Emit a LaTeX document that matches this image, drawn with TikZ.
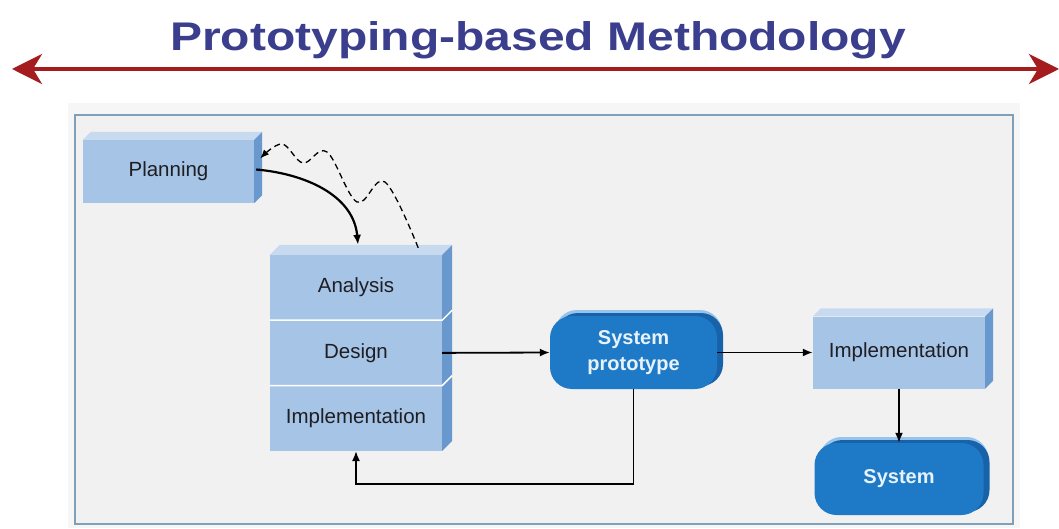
\documentclass[tikz,border=0pt]{standalone}
\usepackage{fontspec}
\setmainfont{Liberation Sans}
\usetikzlibrary{positioning,calc,arrows.meta,shadows}

\definecolor{titleblue}{RGB}{58,62,140}
\definecolor{arrowred}{RGB}{165,28,30}
\definecolor{panelfill}{RGB}{241,241,241}
\definecolor{panelline}{RGB}{128,160,185}
\definecolor{boxfront}{RGB}{166,196,230}
\definecolor{boxtop}{RGB}{200,218,240}
\definecolor{boxside}{RGB}{104,152,206}
\definecolor{blobfront}{RGB}{30,122,198}
\definecolor{blobtop}{RGB}{150,196,236}
\definecolor{blobdark}{RGB}{24,98,170}
\definecolor{blobtext}{RGB}{232,242,252}
\definecolor{textdark}{RGB}{30,30,35}

\tikzset{
  phase/.style={fill=boxfront, minimum width=172pt, minimum height=65pt,
    inner sep=0pt, text=textdark, font=\fontsize{20.5}{24}\selectfont},
  blob/.style={fill=blobfront, rounded corners=22pt, inner sep=0pt,
    general shadow={fill=blobtop, shadow xshift=5pt, shadow yshift=6pt},
    general shadow={fill=blobdark, shadow xshift=6pt, shadow yshift=3pt},
    text=blobtext, align=center, font=\bfseries\fontsize{20}{26}\selectfont},
  flow/.style={-{Latex[length=10pt,width=8pt]}, line width=1.8pt},
  wiggle/.style={line width=1.3pt, dash pattern=on 6pt off 4pt,
    -{Latex[length=9pt,width=7pt]}},
}

% top and right faces of a box, from top node #1 to bottom node #2
\newcommand{\prism}[3]{%
  \fill[boxtop] (#1.north west) -- ++(#3,#3) -- ($(#1.north east)+(#3,#3)$)
    -- (#1.north east) -- cycle;
  \fill[boxside] (#1.north east) -- ++(#3,#3) -- ($(#2.south east)+(#3,#3)$)
    -- (#2.south east) -- cycle;}

\begin{document}
\begin{tikzpicture}[x=1pt,y=1pt]
    \useasboundingbox (0,0) rectangle (1059,528);
    % title and span arrow
    \node[anchor=base, text=titleblue, xscale=1.2, transform shape,
      font=\bfseries\fontsize{40}{44}\selectfont] (title) at (538,477) {Prototyping-based Methodology};
    \coordinate (spanl) at (12,459);
    \coordinate (spanr) at (1059,459);
    \draw[arrowred, line width=4pt, {Stealth[length=30pt,width=30pt,inset=9pt]}-{Stealth[length=30pt,width=30pt,inset=9pt]}] (spanl) -- (spanr);
    % panel
    \fill[gray!7] (68,0) rectangle (1020,425);
    \draw[draw=panelline, fill=panelfill, line width=1.2pt] (75,4) rectangle (1013,413);

    % planning
    \node[phase, minimum width=171pt, minimum height=63pt] (plan) at (168.5,356.5) {Planning};
    \prism{plan}{plan}{8}

    % analysis / design / implementation stack
    \node[phase] (ana) at (356,240.5) {Analysis};
    \node[phase, below=0pt of ana] (des) {Design};
    \node[phase, below=0pt of des] (imp) {Implementation};
    \prism{ana}{imp}{10}
    \draw[white, line width=1.5pt] (ana.south west) -- (ana.south east) -- ++(10,10);
    \draw[white, line width=1.5pt] (des.south west) -- (des.south east) -- ++(10,10);

    % prototype, implementation, system
    \node[blob, minimum width=167pt, minimum height=73pt] (proto) at (633.5,175.5) {System\\prototype};
    \node[phase, minimum height=72pt] (impl) at (899,175.5) {Implementation};
    \prism{impl}{impl}{8}
    \node[blob, minimum width=169pt, minimum height=72pt] (sys) at (899,49) {System};

    % connectors
    \draw[flow, line width=2.2pt] (plan.east) ++(2,2) to[out=-5,in=95] ($(ana.north)+(2,10)$);
    \coordinate (wstart) at ($(ana.north east)+(-24,7)$);
    \coordinate (wend) at ($(plan.east)+(6,13)$);
    \draw[wiggle] plot[smooth, tension=.6] coordinates {(wstart) (385,346) (357,326) (327,376) (303,365) (282,384) (wend)};
    \draw[flow] (des.east) -- (proto.west);
    \draw[flow] (proto.east) -- (impl.west);
    \draw[flow] (impl.south) -- (sys.north);
    \draw[flow] (proto.south) -- ++(0,-95) -| (imp.south);
\end{tikzpicture}
\end{document}
